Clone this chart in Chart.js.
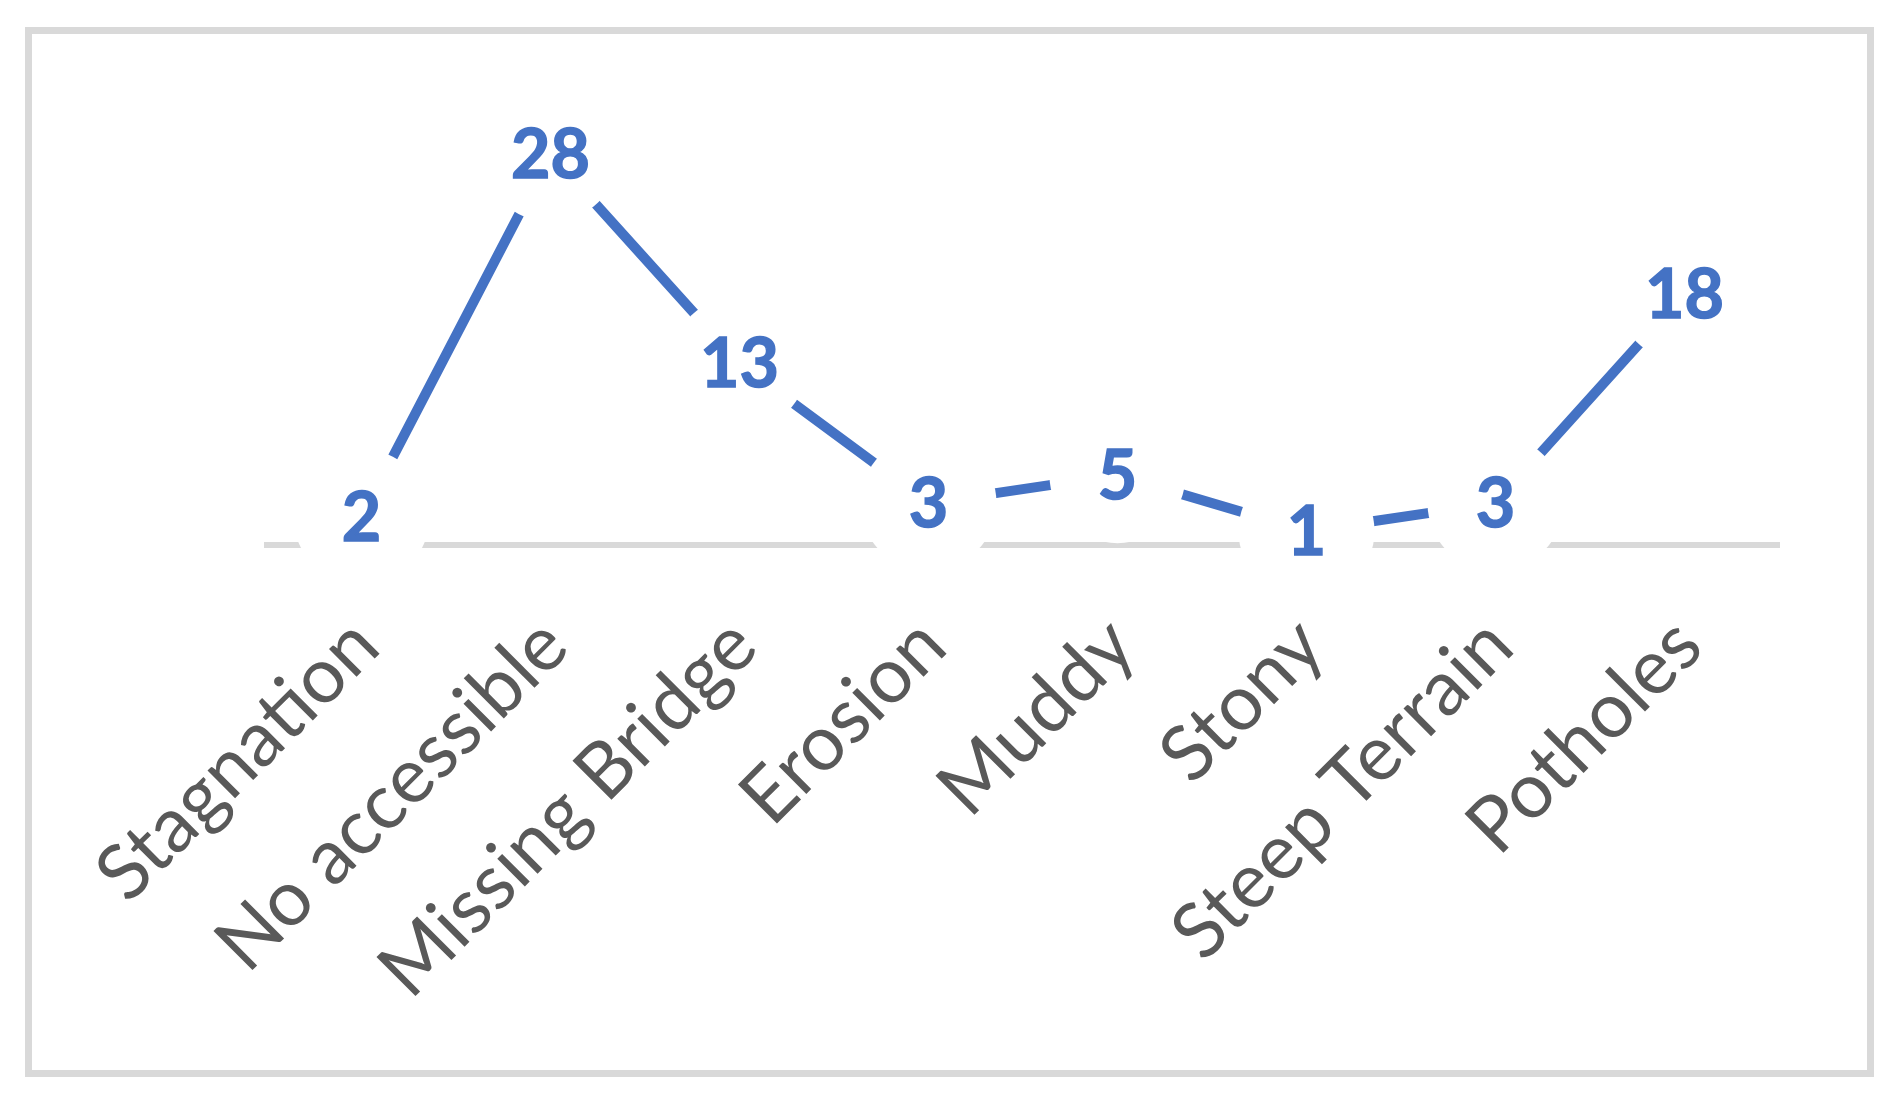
<!DOCTYPE html>
<html>
<head>
<meta charset="utf-8">
<script src="https://cdn.jsdelivr.net/npm/chart.js@4.4.1/dist/chart.umd.min.js"></script>
<style>
  html, body { margin: 0; padding: 0; background: #fff; }
  #wrap { width: 1901px; height: 1100px; }
</style>
</head>
<body>
<div id="wrap"><canvas id="roadChart" width="1901" height="1100"></canvas></div>
<script>
'use strict';
var categories = ['Stagnation', 'No accessible', 'Missing Bridge', 'Erosion', 'Muddy', 'Stony', 'Steep Terrain', 'Potholes'];
var counts = [2, 28, 13, 3, 5, 1, 3, 18];
var yTicks = [0, 30];

var lineBlue = '#4472C4';
var axisGrey = '#D9D9D9';
var labelGrey = '#595959';

// white frame + outer grey border like the office chart
var frame = {
    id: 'frame',
    beforeDraw: function(chart) {
        var ctx = chart.ctx;
        ctx.save();
        ctx.fillStyle = '#fff';
        ctx.fillRect(0, 0, chart.width, chart.height);
        ctx.strokeStyle = axisGrey;
        ctx.lineWidth = 7;
        ctx.strokeRect(28.5, 30.5, 1842, 1043);
        ctx.restore();
    }
};

// value labels sit centred on each point
var valueLabels = {
    id: 'valueLabels',
    afterDatasetsDraw: function(chart) {
        var ctx = chart.ctx;
        var meta = chart.getDatasetMeta(0);
        ctx.save();
        ctx.font = 'bold 68px Lato';
        ctx.fillStyle = lineBlue;
        ctx.strokeStyle = lineBlue;
        ctx.lineWidth = 1.5;
        ctx.textAlign = 'center';
        ctx.textBaseline = 'middle';
        meta.data.forEach(function(pt, i) {
            ctx.fillText(String(counts[i]), pt.x, pt.y + 2);
            ctx.strokeText(String(counts[i]), pt.x, pt.y + 2);
        });
        ctx.restore();
    }
};

var ctx = document.getElementById('roadChart');
var chart = new Chart(ctx, {
    type: 'line',
    data: {
        labels: categories,
        datasets: [{
            data: counts,
            borderColor: lineBlue,
            borderWidth: 10,
            pointRadius: 68,
            pointHoverRadius: 68,
            pointBackgroundColor: '#fff',
            pointBorderWidth: 0,
            pointBorderColor: '#fff',
            tension: 0,
            clip: false
        }]
    },
    options: {
        responsive: false,
        animation: false,
        events: [],
        layout: { padding: { left: 267, right: 122, top: 126, bottom: 0 } },
        plugins: { legend: { display: false }, tooltip: { enabled: false } },
        scales: {
            x: {
                offset: true,
                grid: { display: false, drawTicks: false },
                border: { display: true, color: axisGrey, width: 6 },
                ticks: {
                    autoSkip: false,
                    minRotation: 45,
                    maxRotation: 45,
                    padding: 55,
                    labelOffset: 4,
                    color: labelGrey,
                    font: { family: 'Lato', size: 77 }
                },
                afterFit: function(scale) {
                    scale.height = 1100 - 545;
                    scale.paddingLeft = 0;
                    scale.paddingRight = 0;
                }
            },
            y: {
                display: false,
                min: yTicks[0],
                max: yTicks[1]
            }
        }
    },
    plugins: [frame, valueLabels]
});
</script>
</body>
</html>
